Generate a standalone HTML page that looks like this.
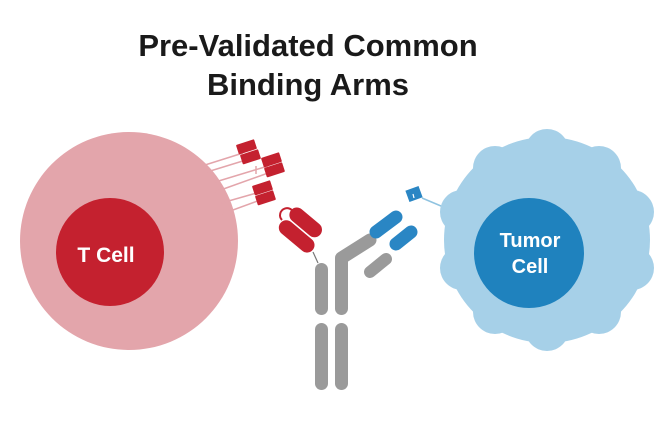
<!DOCTYPE html>
<html><head><meta charset="utf-8"><style>
body{margin:0;background:#fff;width:672px;height:418px;overflow:hidden}
</style></head><body>
<svg width="672" height="418" viewBox="0 0 672 418" xmlns="http://www.w3.org/2000/svg">
<text x="308" y="56" text-anchor="middle" font-family="Liberation Sans, sans-serif" font-weight="bold" font-size="31" fill="#1a1a1a">Pre-Validated Common</text>
<text x="308" y="95" text-anchor="middle" font-family="Liberation Sans, sans-serif" font-weight="bold" font-size="31" fill="#1a1a1a">Binding Arms</text>

<!-- T cell -->
<circle cx="129" cy="241" r="109" fill="#e3a5ab"/>
<circle cx="110" cy="252" r="54" fill="#c4212f"/>
<text x="106" y="262" text-anchor="middle" font-family="Liberation Sans, sans-serif" font-weight="bold" font-size="21" fill="#fff">T Cell</text>

<!-- receptors -->
<g stroke="#e3a5ab" stroke-width="1.5">
<line x1="205" y1="165" x2="243" y2="153"/>
<line x1="207" y1="172" x2="246" y2="160"/>
<line x1="212" y1="183" x2="268" y2="166"/>
<line x1="215" y1="192" x2="271" y2="172"/>
<line x1="218" y1="204" x2="260" y2="192"/>
<line x1="222" y1="214" x2="263" y2="199"/>
<line x1="256" y1="166" x2="256" y2="174"/>
</g>
<g fill="#c4212f">
<rect x="237" y="142" width="19" height="10" rx="1" transform="rotate(-18 246 147)"/>
<rect x="241" y="152" width="19" height="10" rx="1" transform="rotate(-18 250 157)"/>
<rect x="262" y="155" width="19" height="10" rx="1" transform="rotate(-18 271 160)"/>
<rect x="265" y="165" width="19" height="10" rx="1" transform="rotate(-18 274 170)"/>
<rect x="253" y="183" width="19" height="10" rx="1" transform="rotate(-18 262 188)"/>
<rect x="256" y="193" width="19" height="10" rx="1" transform="rotate(-18 265 198)"/>
</g>

<!-- red binding arm -->
<path d="M282 220 a7 7 0 1 1 12 -4" fill="none" stroke="#c4212f" stroke-width="2"/>
<rect x="276" y="229" width="42" height="15" rx="7.5" fill="#c4212f" transform="rotate(40 297 236)"/>
<rect x="287" y="215" width="38" height="15" rx="7.5" fill="#c4212f" transform="rotate(40 306 222)"/>
<line x1="313" y1="252" x2="318" y2="263" stroke="#777" stroke-width="1.2"/>

<!-- antibody -->
<g fill="#9a9a9a">
<rect x="315" y="263" width="13" height="52" rx="6.5"/>
<rect x="335" y="263" width="13" height="52" rx="6.5"/>
<rect x="315" y="323" width="13" height="67" rx="6.5"/>
<rect x="335" y="323" width="13" height="67" rx="6.5"/>
<path d="M341.5 275 L341.5 258 L370 240" fill="none" stroke="#9a9a9a" stroke-width="13" stroke-linecap="round" stroke-linejoin="round"/>
<line x1="370" y1="272" x2="386" y2="259" stroke="#9a9a9a" stroke-width="12" stroke-linecap="round"/>
</g>
<g stroke="#2a86c4" stroke-width="13" stroke-linecap="round">
<line x1="376" y1="232" x2="396" y2="217"/>
<line x1="396" y1="244" x2="411" y2="232"/>
</g>
<rect x="407" y="188" width="14" height="12" fill="#2a86c4" transform="rotate(-20 414 194)"/>
<line x1="413" y1="194" x2="414" y2="198" stroke="#fff" stroke-width="1.2"/>
<line x1="422" y1="198" x2="460" y2="214" stroke="#8fc3e0" stroke-width="1.5"/>

<!-- tumor cell -->
<g fill="#a6d0e8">
<circle cx="547" cy="240" r="103"/>
<circle cx="547" cy="151" r="22"/>
<circle cx="599" cy="168" r="22"/>
<circle cx="632" cy="212" r="22"/>
<circle cx="632" cy="268" r="22"/>
<circle cx="599" cy="312" r="22"/>
<circle cx="547" cy="329" r="22"/>
<circle cx="495" cy="312" r="22"/>
<circle cx="462" cy="268" r="22"/>
<circle cx="462" cy="212" r="22"/>
<circle cx="495" cy="168" r="22"/>
</g>
<circle cx="529" cy="253" r="55" fill="#1f82be"/>
<text x="530" y="247" text-anchor="middle" font-family="Liberation Sans, sans-serif" font-weight="bold" font-size="20" fill="#fff">Tumor</text>
<text x="530" y="273" text-anchor="middle" font-family="Liberation Sans, sans-serif" font-weight="bold" font-size="20" fill="#fff">Cell</text>
</svg>
</body></html>
